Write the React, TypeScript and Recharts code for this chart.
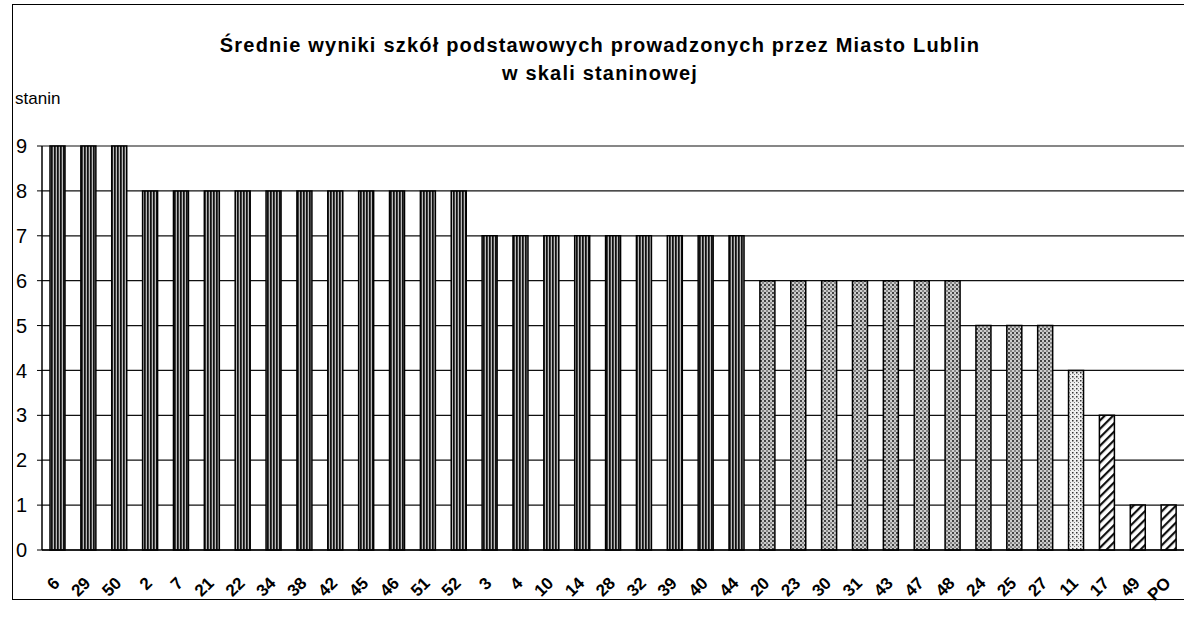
import { BarChart, Bar, XAxis, YAxis, CartesianGrid, Cell } from 'recharts'

const schools = ['6', '29', '50', '2', '7', '21', '22', '34', '38', '42', '45', '46', '51', '52',
  '3', '4', '10', '14', '28', '32', '39', '40', '44', '20', '23', '30', '31', '43', '47', '48',
  '24', '25', '27', '11', '17', '49', 'PO']
const stanines = [9, 9, 9, 8, 8, 8, 8, 8, 8, 8, 8, 8, 8, 8,
  7, 7, 7, 7, 7, 7, 7, 7, 7, 6, 6, 6, 6, 6, 6, 6,
  5, 5, 5, 4, 3, 1, 1]
const yTicks = [0, 1, 2, 3, 4, 5, 6, 7, 8, 9]

const data = schools.map((s, i) => ({ name: s, value: stanines[i] }))

const fillFor = (v: number) =>
  v >= 7 ? 'url(#vstripe)' : v >= 5 ? 'url(#check)' : v === 4 ? 'url(#dots)' : 'url(#hatch)'

const font = 'Liberation Sans, Arial, sans-serif'

function XTick({ x, y, payload }: any) {
  return (
    <g transform={`translate(${x - 1},${y + 22})`}>
      <text transform="rotate(-45)" textAnchor="end" dy={6} fontSize={17} fontWeight="bold"
        fontFamily={font} fill="#000">
        {payload.value}
      </text>
    </g>
  )
}

export default function App() {
  return (
    <div style={{ position: 'absolute', left: 0, top: 0, width: 1184, height: 626, background: '#fff' }}>
      <div style={{ position: 'absolute', left: 12, top: 4, width: 1180, height: 594, border: '1.5px solid #000' }} />
      <div style={{ position: 'absolute', left: 0, top: 31, width: 1200, textAlign: 'center',
        fontFamily: font, fontWeight: 'bold', fontSize: 20, letterSpacing: 1.2, lineHeight: '28px', color: '#000' }}>
        Średnie wyniki szkół podstawowych prowadzonych przez Miasto Lublin<br />w skali staninowej
      </div>
      <div style={{ position: 'absolute', left: 15, top: 89, fontFamily: font, fontSize: 17, color: '#000' }}>
        stanin
      </div>
      <BarChart width={1184} height={626} data={data} barCategoryGap={0}
        margin={{ top: 146, right: 0, bottom: 0, left: 0 }}>
        <defs>
          <pattern id="vstripe" patternUnits="userSpaceOnUse" width={3} height={6}>
            <rect width={3} height={6} fill="#fff" />
            <rect width={1.8} height={6} fill="#111" />
            <rect x={2.3} width={0.5} height={6} fill="#777" />
          </pattern>
          <pattern id="check" patternUnits="userSpaceOnUse" width={4} height={4}>
            <rect width={4} height={4} fill="#ccc" />
            <rect width={2} height={2} fill="#444" />
            <rect x={2} y={2} width={2} height={2} fill="#888" />
          </pattern>
          <pattern id="dots" patternUnits="userSpaceOnUse" width={4} height={4}>
            <rect width={4} height={4} fill="#eee" />
            <rect width={1.5} height={1.5} fill="#333" />
            <rect x={2} y={2} width={1} height={1} fill="#777" />
          </pattern>
          <pattern id="hatch" patternUnits="userSpaceOnUse" width={6} height={6}
            patternTransform="rotate(45)">
            <rect width={6} height={6} fill="#fff" />
            <rect width={2.2} height={6} fill="#111" />
          </pattern>
        </defs>
        <CartesianGrid vertical={false} stroke="#111" strokeWidth={1.2} />
        <XAxis dataKey="name" height={76} interval={0} tick={<XTick />}
          axisLine={{ stroke: '#000', strokeWidth: 1.5 }} tickLine={false} />
        <YAxis width={42} domain={[0, 9]} ticks={yTicks} interval={0} tickSize={5} tickMargin={10}
          axisLine={{ stroke: '#000', strokeWidth: 1.5 }} tickLine={{ stroke: '#000' }}
          tick={{ fontSize: 20, fill: '#000', fontFamily: font }} />
        <Bar dataKey="value" barSize={15} stroke="#000" strokeWidth={1.5} isAnimationActive={false}>
          {data.map((d, i) => (
            <Cell key={i} fill={fillFor(d.value)} />
          ))}
        </Bar>
      </BarChart>
    </div>
  )
}
